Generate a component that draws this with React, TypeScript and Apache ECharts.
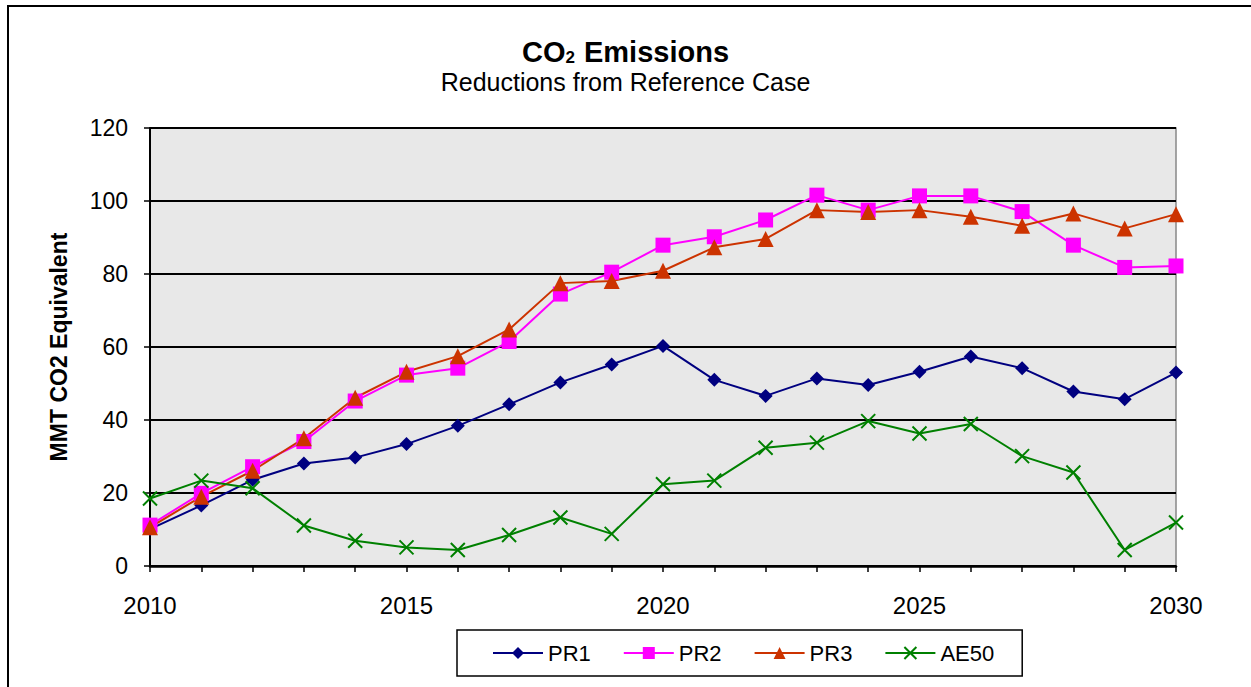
import React, { useEffect, useRef } from "react";
import * as echarts from "echarts";

const years = ["2010","2011","2012","2013","2014","2015","2016","2017","2018","2019","2020","2021","2022","2023","2024","2025","2026","2027","2028","2029","2030"];
const pr1 = [10.1, 16.6, 23.6, 28.1, 29.7, 33.4, 38.4, 44.3, 50.3, 55.2, 60.3, 51.0, 46.6, 51.4, 49.6, 53.2, 57.4, 54.2, 47.8, 45.7, 53.0];
const pr2 = [11.2, 19.9, 27.2, 34.1, 45.2, 52.3, 54.2, 61.5, 74.5, 80.5, 87.9, 90.2, 94.8, 101.6, 97.5, 101.4, 101.4, 97.1, 87.9, 81.8, 82.2];
const pr3 = [10.6, 19.0, 26.1, 35.0, 46.1, 53.2, 57.5, 64.8, 77.5, 78.1, 80.9, 87.3, 89.6, 97.5, 97.0, 97.5, 95.7, 93.2, 96.6, 92.5, 96.4];
const ae50 = [18.5, 23.4, 21.3, 11.1, 6.9, 5.1, 4.4, 8.5, 13.3, 8.8, 22.4, 23.4, 32.4, 33.8, 39.7, 36.3, 38.9, 30.1, 25.6, 4.4, 11.9];

const FONT = "'Liberation Sans', Arial, sans-serif";

export default function App() {
  const ref = useRef<HTMLDivElement>(null);
  useEffect(() => {
    if (!ref.current) return;
    const chart = echarts.init(ref.current, null, { renderer: "svg" });
    const xPath = "path://M0,0L10,10M10,0L0,10";
    chart.setOption({
      animation: false,
      backgroundColor: "#ffffff",
      textStyle: { fontFamily: FONT },
      title: [
        {
          text: "{a|CO}{s|2}{a| Emissions}",
          left: "center",
          top: 34,
          padding: 0,
          textStyle: {
            rich: {
              a: { fontSize: 29, fontWeight: "bold", fontFamily: FONT, color: "#000", verticalAlign: "bottom", lineHeight: 32 },
              s: { fontSize: 17, fontWeight: "bold", fontFamily: FONT, color: "#000", verticalAlign: "bottom", lineHeight: 13, padding: [0, 1, 0, 0] },
            },
          },
        },
        {
          text: "Reductions from Reference Case",
          left: "center",
          top: 69,
          padding: 0,
          textStyle: { fontSize: 25, fontWeight: "normal", fontFamily: FONT, color: "#000" },
        },
      ],
      graphic: [
        {
          type: "rect",
          shape: { x: 8, y: 6, width: 1300, height: 720 },
          style: { fill: "none", stroke: "#000", lineWidth: 2 },
          silent: true,
          z: -10,
        },
      ],
      legend: {
        left: 457,
        top: 630,
        padding: [12, 28, 12, 35],
        itemGap: 32,
        itemWidth: 50,
        itemHeight: 15,
        borderColor: "#000",
        borderWidth: 1.5,
        textStyle: { fontSize: 22, fontFamily: FONT, color: "#000" },
        data: ["PR1", "PR2", "PR3", "AE50"],
      },
      grid: {
        left: 150,
        top: 128,
        width: 1026,
        height: 438,
        show: true,
        backgroundColor: "#E8E8E8",
        borderColor: "#888888",
        borderWidth: 1.5,
      },
      xAxis: {
        type: "category",
        data: years,
        boundaryGap: false,
        axisLine: { lineStyle: { color: "#000", width: 2.5 } },
        axisTick: { show: true, interval: 0, length: 6, lineStyle: { color: "#000", width: 1.5 } },
        axisLabel: { interval: 4, fontSize: 24, color: "#000", margin: 27, fontFamily: FONT },
        splitLine: { show: false },
      },
      yAxis: {
        type: "value",
        min: 0,
        max: 120,
        interval: 20,
        name: "MMT CO2 Equivalent",
        nameLocation: "middle",
        nameRotate: 90,
        nameGap: 80,
        nameTextStyle: { fontSize: 23, fontWeight: "bold", color: "#000", fontFamily: FONT },
        axisLine: { show: true, lineStyle: { color: "#000", width: 2 } },
        axisTick: { show: true, length: 6, lineStyle: { color: "#000", width: 1.5 } },
        axisLabel: { fontSize: 23, color: "#000", margin: 22, fontFamily: FONT },
        splitLine: { show: true, lineStyle: { color: "#000", width: 2 } },
      },
      series: [
        {
          name: "PR1",
          type: "line",
          data: pr1,
          symbol: "diamond",
          symbolSize: 14,
          lineStyle: { color: "#000080", width: 2 },
          itemStyle: { color: "#000080" },
        },
        {
          name: "PR2",
          type: "line",
          data: pr2,
          symbol: "rect",
          symbolSize: 15,
          lineStyle: { color: "#FF00FF", width: 2 },
          itemStyle: { color: "#FF00FF" },
        },
        {
          name: "PR3",
          type: "line",
          data: pr3,
          symbol: "triangle",
          symbolSize: 16,
          lineStyle: { color: "#CC3300", width: 2 },
          itemStyle: { color: "#CC3300" },
        },
        {
          name: "AE50",
          type: "line",
          data: ae50,
          symbol: xPath,
          symbolSize: 14,
          lineStyle: { color: "#008000", width: 2 },
          itemStyle: { color: "#008000", borderColor: "#008000", borderWidth: 2 },
        },
      ],
    });
    return () => chart.dispose();
  }, []);
  return (
    <div
      ref={ref}
      style={{ position: "fixed", left: 0, top: 0, width: 1251, height: 687 }}
    />
  );
}
